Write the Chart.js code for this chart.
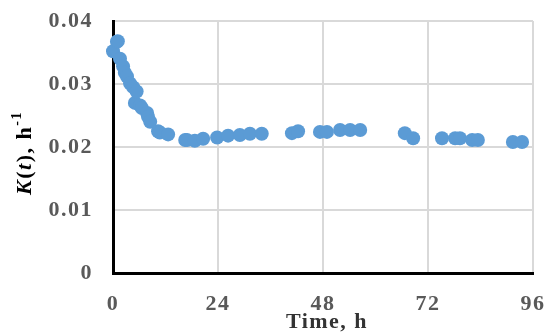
<!DOCTYPE html>
<html>
<head>
<meta charset="utf-8">
<script src="https://cdn.jsdelivr.net/npm/chart.js@4/dist/chart.umd.min.js"></script>
<style>
  html, body { margin: 0; padding: 0; background: #fff; }
  #wrap { width: 550px; height: 333px; position: relative; }
</style>
</head>
<body>
<div id="wrap"><canvas id="kt"></canvas></div>
<script>
// ── data ────────────────────────────────────────────────
const timeH = [0, 0.9, 1.1, 1.6, 2.3, 2.7, 3.2, 3.9, 4.6, 5.0, 5.4, 6.2, 6.6, 7.8, 8.0, 8.5,
  10.3, 10.7, 12.6, 16.5, 16.9, 18.7, 20.6, 23.8, 26.3, 29.0, 31.3, 34.0,
  40.9, 42.3, 47.3, 48.9, 51.9, 54.2, 56.5, 66.7, 68.6, 75.2, 78.2, 79.3, 82.1, 83.4, 91.4, 93.5];
const kValues = [0.0352, 0.0367, 0.0368, 0.0340, 0.0328, 0.0318, 0.0312, 0.0301, 0.0295, 0.0270, 0.0288, 0.0266, 0.0262, 0.0254, 0.0248, 0.0240,
  0.0225, 0.0223, 0.0220, 0.0211, 0.0211, 0.0210, 0.0213, 0.0215, 0.0218, 0.0219, 0.0221, 0.0221,
  0.0222, 0.0225, 0.0224, 0.0224, 0.0227, 0.0227, 0.0227, 0.0222, 0.0214, 0.0214, 0.0214, 0.0214, 0.0211, 0.0211, 0.0208, 0.0208];
const xTicks = [0, 24, 48, 72, 96];
const yTicks = [0, 0.01, 0.02, 0.03, 0.04];

const SERIF = "'Liberation Serif', 'Times New Roman', serif";
const TICK_CLR = "#595959";
const SPACING = "1.5px";

// texte un peu plus large comme dans l'original
const wideText = {
  id: "wideText",
  beforeDraw(chart) { chart.ctx.letterSpacing = SPACING; },
};

// ── axis titles (mixed italic/superscript) ──────────────
const axisTitles = {
  id: "axisTitles",
  afterDraw(chart) {
    const c = chart.ctx;
    const area = chart.chartArea;
    c.save();
    c.letterSpacing = SPACING;
    c.textBaseline = "middle";

    // x title
    c.font = `bold 22px ${SERIF}`;
    c.textAlign = "center";
    c.fillStyle = "#333";
    c.fillText("Time, h", (area.left + area.right) / 2 + 4, 322);

    // y title: K(t), h^-1  (rotated)
    const parts = [
      { t: "K", f: `italic bold 22px ${SERIF}`, dy: 0 },
      { t: "(", f: `bold 22px ${SERIF}`, dy: 0 },
      { t: "t", f: `italic bold 22px ${SERIF}`, dy: 0 },
      { t: "), h", f: `bold 22px ${SERIF}`, dy: 0 },
      { t: "-1", f: `bold 14px ${SERIF}`, dy: -8 },
    ];
    let total = 0;
    parts.forEach((p) => { c.font = p.f; p.w = c.measureText(p.t).width; total += p.w; });
    c.translate(25, 153);
    c.rotate(-Math.PI / 2);
    c.textAlign = "left";
    c.fillStyle = "#000";
    let x = -total / 2;
    parts.forEach((p) => { c.font = p.f; c.fillText(p.t, x, p.dy); x += p.w; });
    c.restore();
  },
};

new Chart(document.getElementById("kt"), {
  type: "scatter",
  data: {
    datasets: [{
      label: "K(t)",
      data: timeH.map((t, i) => ({ x: t, y: kValues[i] })),
      backgroundColor: "#5b9bd5",
      borderWidth: 0,
      pointRadius: 7,
      pointHoverRadius: 7,
      clip: false,
    }],
  },
  options: {
    responsive: true,
    maintainAspectRatio: false,
    animation: false,
    layout: { padding: { top: 21, right: 17, left: 0, bottom: 0 } },
    plugins: { legend: { display: false }, tooltip: { enabled: false } },
    scales: {
      x: {
        type: "linear",
        min: 0, max: 96,
        afterBuildTicks: (s) => { s.ticks = xTicks.map((v) => ({ value: v })); },
        afterFit: (s) => { s.height = 60; s.paddingLeft = 0; s.paddingRight = 0; },
        grid: { color: "#d9d9d9", lineWidth: 2, drawTicks: false },
        border: { color: "#000", width: 3 },
        ticks: { color: TICK_CLR, padding: 18, font: { family: SERIF, size: 22, weight: "bold" } },
      },
      y: {
        min: 0, max: 0.04,
        afterBuildTicks: (s) => { s.ticks = yTicks.map((v) => ({ value: v })); },
        afterFit: (s) => { s.width = 113; s.paddingTop = 0; s.paddingBottom = 0; },
        grid: { color: "#d9d9d9", lineWidth: 2, drawTicks: false },
        border: { color: "#000", width: 3 },
        ticks: {
          color: TICK_CLR, padding: 20,
          font: { family: SERIF, size: 22, weight: "bold" },
          callback: (v) => v === 0 ? "0" : v.toFixed(2),
        },
      },
    },
  },
  plugins: [wideText, axisTitles],
});
</script>
</body>
</html>
